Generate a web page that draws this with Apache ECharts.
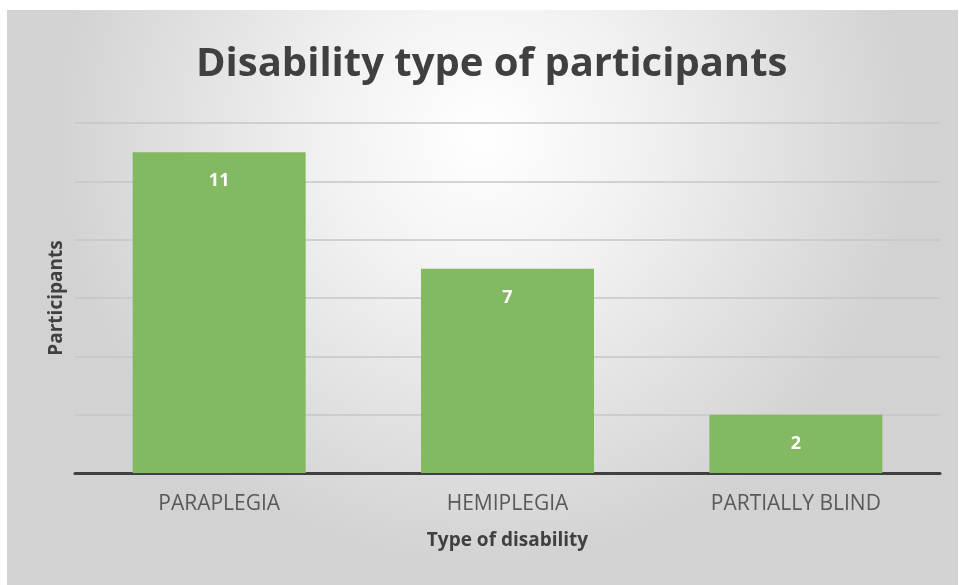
<!DOCTYPE html>
<html><head><meta charset="utf-8">
<script src="https://cdn.jsdelivr.net/npm/echarts@6/dist/echarts.min.js"></script>
<style>html,body{margin:0;padding:0;background:#fff;}#c{width:959px;height:585px;}</style>
</head><body><div id="c"></div>
<script>
const categories = ['PARAPLEGIA', 'HEMIPLEGIA', 'PARTIALLY BLIND'];
const participants = [11, 7, 2];
const titleText = 'Disability type of participants';
const xName = 'Type of disability';
const yName = 'Participants';

const chart = echarts.init(document.getElementById('c'));
chart.setOption({
  backgroundColor: '#ffffff',
  graphic: [{
    type: 'rect', z: -10, silent: true,
    shape: {x: 7, y: 10, width: 951, height: 575},
    style: {
      fill: new echarts.graphic.RadialGradient(0.5, 0.22, 0.75, [
        {offset: 0, color: '#ffffff'},
        {offset: 0.35, color: '#f2f2f2'},
        {offset: 1, color: '#d2d2d2'}
      ])
    }
  }],
  title: {
    text: titleText, left: 191, top: 40,
    textStyle: {fontFamily: 'Open Sans', fontWeight: 'bold', fontSize: 40, color: '#404040'}
  },
  grid: {left: 75, right: 19, top: 123, bottom: 112},
  xAxis: {
    type: 'category', data: categories,
    name: xName, nameLocation: 'middle', nameGap: 58,
    nameTextStyle: {fontFamily: 'Open Sans', fontWeight: 'bold', fontSize: 19, color: '#404040'},
    axisLine: {lineStyle: {color: '#404040', width: 3}},
    axisTick: {show: false},
    axisLabel: {margin: 21, fontFamily: 'Open Sans', fontSize: 21, color: '#595959'}
  },
  yAxis: {
    type: 'value', min: 0, max: 12, interval: 2,
    name: yName, nameLocation: 'middle', nameGap: 9, nameRotate: 90,
    nameTextStyle: {fontFamily: 'Open Sans', fontWeight: 'bold', fontSize: 19, color: '#404040'},
    axisLabel: {show: false},
    axisLine: {show: false}, axisTick: {show: false},
    splitLine: {lineStyle: {color: '#c6c6c6', width: 1.5}}
  },
  series: [{
    type: 'bar', data: participants, barWidth: '60%',
    itemStyle: {color: '#84b963'},
    label: {show: true, position: 'insideTop', distance: 20,
      fontFamily: 'Open Sans', fontWeight: 'bold', fontSize: 18, color: '#ffffff'}
  }]
});
</script></body></html>
